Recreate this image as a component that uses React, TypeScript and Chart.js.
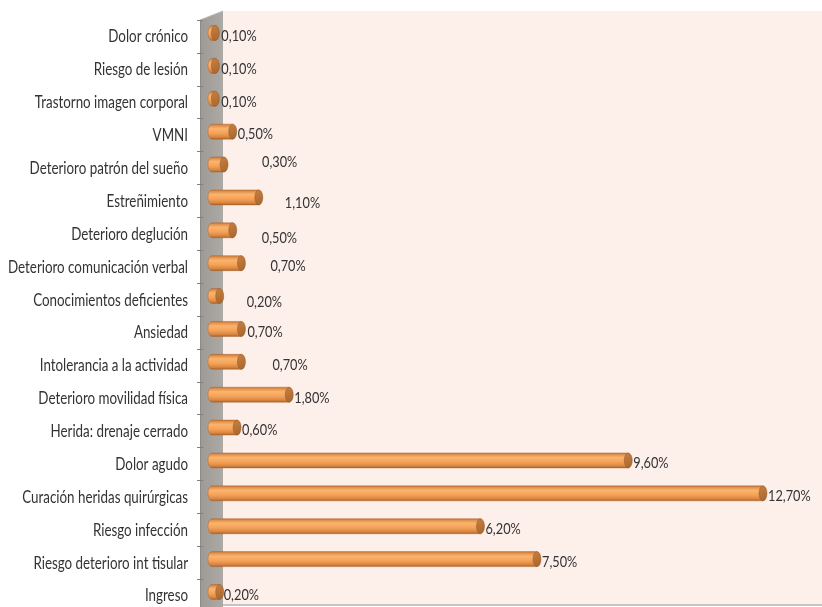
import React, { useEffect, useRef } from 'react';
import { Chart, registerables } from 'chart.js';

Chart.register(...registerables);

const categories = [
  'Dolor crónico',
  'Riesgo de lesión',
  'Trastorno imagen corporal',
  'VMNI',
  'Deterioro patrón del sueño',
  'Estreñimiento',
  'Deterioro deglución',
  'Deterioro comunicación verbal',
  'Conocimientos deficientes',
  'Ansiedad',
  'Intolerancia a la actividad',
  'Deterioro movilidad física',
  'Herida: drenaje cerrado',
  'Dolor agudo',
  'Curación heridas quirúrgicas',
  'Riesgo infección',
  'Riesgo deterioro int tisular',
  'Ingreso',
];

const values = [0.1, 0.1, 0.1, 0.5, 0.3, 1.1, 0.5, 0.7, 0.2, 0.7, 0.7, 1.8, 0.6, 9.6, 12.7, 6.2, 7.5, 0.2];

const valueLabels = values.map((v) => v.toFixed(2).replace('.', ',') + '%');

const FONT = "Lato, 'DejaVu Sans', sans-serif";

// manual data-label nudges (as placed in the original chart)
const labelNudgeX = [2, 2, 2, 1, 34, 22, 25, 25, 23, 2, 27, 1, 1, 1, 1, 1, 1, 0];
const labelNudgeY = [0, 0, 0, 0, -5, 3, 5, 0, 3, 0, 0, 0, 0, 0, 0, 0, 0, 0];

const decor = {
  id: 'decor',
  beforeDatasetsDraw(chart: any) {
    const { ctx, chartArea: a } = chart;
    const yScale = chart.scales.y;
    const wallL = a.left - 11;
    const wallR = a.left + 12;
    const top = a.top - 22;
    const bottom = a.bottom + 13;
    ctx.save();
    // plot background
    ctx.fillStyle = '#FDEFEA';
    ctx.fillRect(wallR, top, chart.width - wallR, bottom - top);
    // floor edge
    ctx.fillStyle = '#C9C4C1';
    ctx.fillRect(wallR, bottom - 1, chart.width - wallR, 2);
    // side wall
    const g = ctx.createLinearGradient(wallL, 0, wallR, 0);
    g.addColorStop(0, '#9D9995');
    g.addColorStop(1, '#ADA9A5');
    ctx.beginPath();
    ctx.moveTo(wallL, top + 9);
    ctx.lineTo(wallR, top);
    ctx.lineTo(wallR, chart.height);
    ctx.lineTo(wallL, chart.height);
    ctx.closePath();
    ctx.fillStyle = g;
    ctx.fill();
    ctx.strokeStyle = '#BDB9B6';
    ctx.lineWidth = 1;
    ctx.beginPath();
    ctx.moveTo(wallL, top + 9);
    ctx.lineTo(wallR, top);
    ctx.stroke();
    ctx.strokeStyle = '#8E8A87';
    ctx.beginPath();
    ctx.moveTo(wallL + 0.5, top + 9);
    ctx.lineTo(wallL + 0.5, chart.height);
    ctx.stroke();
    // tick marks between categories
    const step = yScale.getPixelForValue(1) - yScale.getPixelForValue(0);
    ctx.strokeStyle = '#7F7F7F';
    for (let i = 0; i <= categories.length; i++) {
      const ty = Math.round(yScale.getPixelForValue(i) - step * 0.4) + 0.5;
      ctx.beginPath();
      ctx.moveTo(wallL - 3, ty);
      ctx.lineTo(wallL + 3, ty);
      ctx.stroke();
    }
    // category labels (condensed, right-aligned against the wall)
    ctx.font = `17px ${FONT}`;
    let widest = 0;
    for (let i = 0; i < yScale.ticks.length; i++) {
      widest = Math.max(widest, ctx.measureText(yScale.getLabelForValue(i)).width);
    }
    const sx = Math.min(1, 180 / widest);
    ctx.fillStyle = '#333333';
    ctx.textAlign = 'right';
    ctx.textBaseline = 'middle';
    for (let i = 0; i < yScale.ticks.length; i++) {
      const ly = yScale.getPixelForValue(i) + 4;
      ctx.save();
      ctx.translate(a.left - 23, ly);
      ctx.scale(sx, 1);
      ctx.fillText(yScale.getLabelForValue(i), 0, 0);
      ctx.restore();
    }
    ctx.restore();
  },
  afterDatasetsDraw(chart: any) {
    const { ctx } = chart;
    const meta = chart.getDatasetMeta(0);
    ctx.save();
    meta.data.forEach((el: any, i: number) => {
      const p = el.getProps(['x', 'y', 'base', 'height'], true);
      const x = p.x;
      const cy = p.y;
      const r = p.height / 2;
      const rx = 4;
      const x0 = p.base - 3;
      const g = ctx.createLinearGradient(0, cy - r, 0, cy + r);
      g.addColorStop(0, '#C0773A');
      g.addColorStop(0.12, '#E4944F');
      g.addColorStop(0.3, '#FAB46D');
      g.addColorStop(0.6, '#F5A259');
      g.addColorStop(0.85, '#DB8743');
      g.addColorStop(1, '#AD6429');
      ctx.beginPath();
      ctx.moveTo(x, cy - r);
      ctx.lineTo(x0 + rx, cy - r);
      ctx.ellipse(x0 + rx, cy, rx, r, 0, -Math.PI / 2, Math.PI / 2, true);
      ctx.lineTo(x, cy + r);
      ctx.closePath();
      ctx.fillStyle = g;
      ctx.fill();
      ctx.strokeStyle = 'rgba(170,95,35,0.6)';
      ctx.lineWidth = 0.7;
      ctx.stroke();
      // end cap
      const cg = ctx.createLinearGradient(x - rx, cy - r, x + rx, cy + r);
      cg.addColorStop(0, '#C98040');
      cg.addColorStop(1, '#A5662F');
      ctx.beginPath();
      ctx.ellipse(x, cy, rx, r, 0, 0, Math.PI * 2);
      ctx.fillStyle = cg;
      ctx.fill();
      ctx.strokeStyle = 'rgba(150,85,35,0.7)';
      ctx.stroke();
      // data label
      ctx.save();
      ctx.font = `15px ${FONT}`;
      ctx.fillStyle = '#333333';
      ctx.textAlign = 'left';
      ctx.textBaseline = 'middle';
      ctx.translate(x + rx + labelNudgeX[i], cy + 3 + labelNudgeY[i]);
      ctx.scale(0.85, 1);
      ctx.fillText(valueLabels[i], 0, 0);
      ctx.restore();
    });
    ctx.restore();
  },
};

export default function App() {
  const ref = useRef<HTMLCanvasElement>(null);
  useEffect(() => {
    document.body.style.margin = '0';
    const canvas = ref.current!;
    const chart = new Chart(canvas, {
      type: 'bar',
      data: {
        labels: categories,
        datasets: [
          {
            data: values,
            backgroundColor: 'rgba(0,0,0,0)',
            borderWidth: 0,
            barThickness: 15,
          },
        ],
      },
      options: {
        animation: false,
        responsive: false,
        indexAxis: 'y',
        layout: { padding: { top: 33, bottom: 15, right: 2.5, left: 0 } },
        plugins: { legend: { display: false }, tooltip: { enabled: false } },
        scales: {
          x: { display: false, min: 0, max: 14 },
          y: {
            offset: false,
            grid: { display: false, drawTicks: false },
            border: { display: false },
            ticks: { display: false, autoSkip: false },
            afterFit: (s: any) => {
              s.width = 211;
              s.paddingTop = 0;
              s.paddingBottom = 0;
            },
          },
        },
      },
      plugins: [decor],
    } as any);
    return () => chart.destroy();
  }, []);
  return <canvas ref={ref} width={822} height={607} style={{ display: 'block' }} />;
}
